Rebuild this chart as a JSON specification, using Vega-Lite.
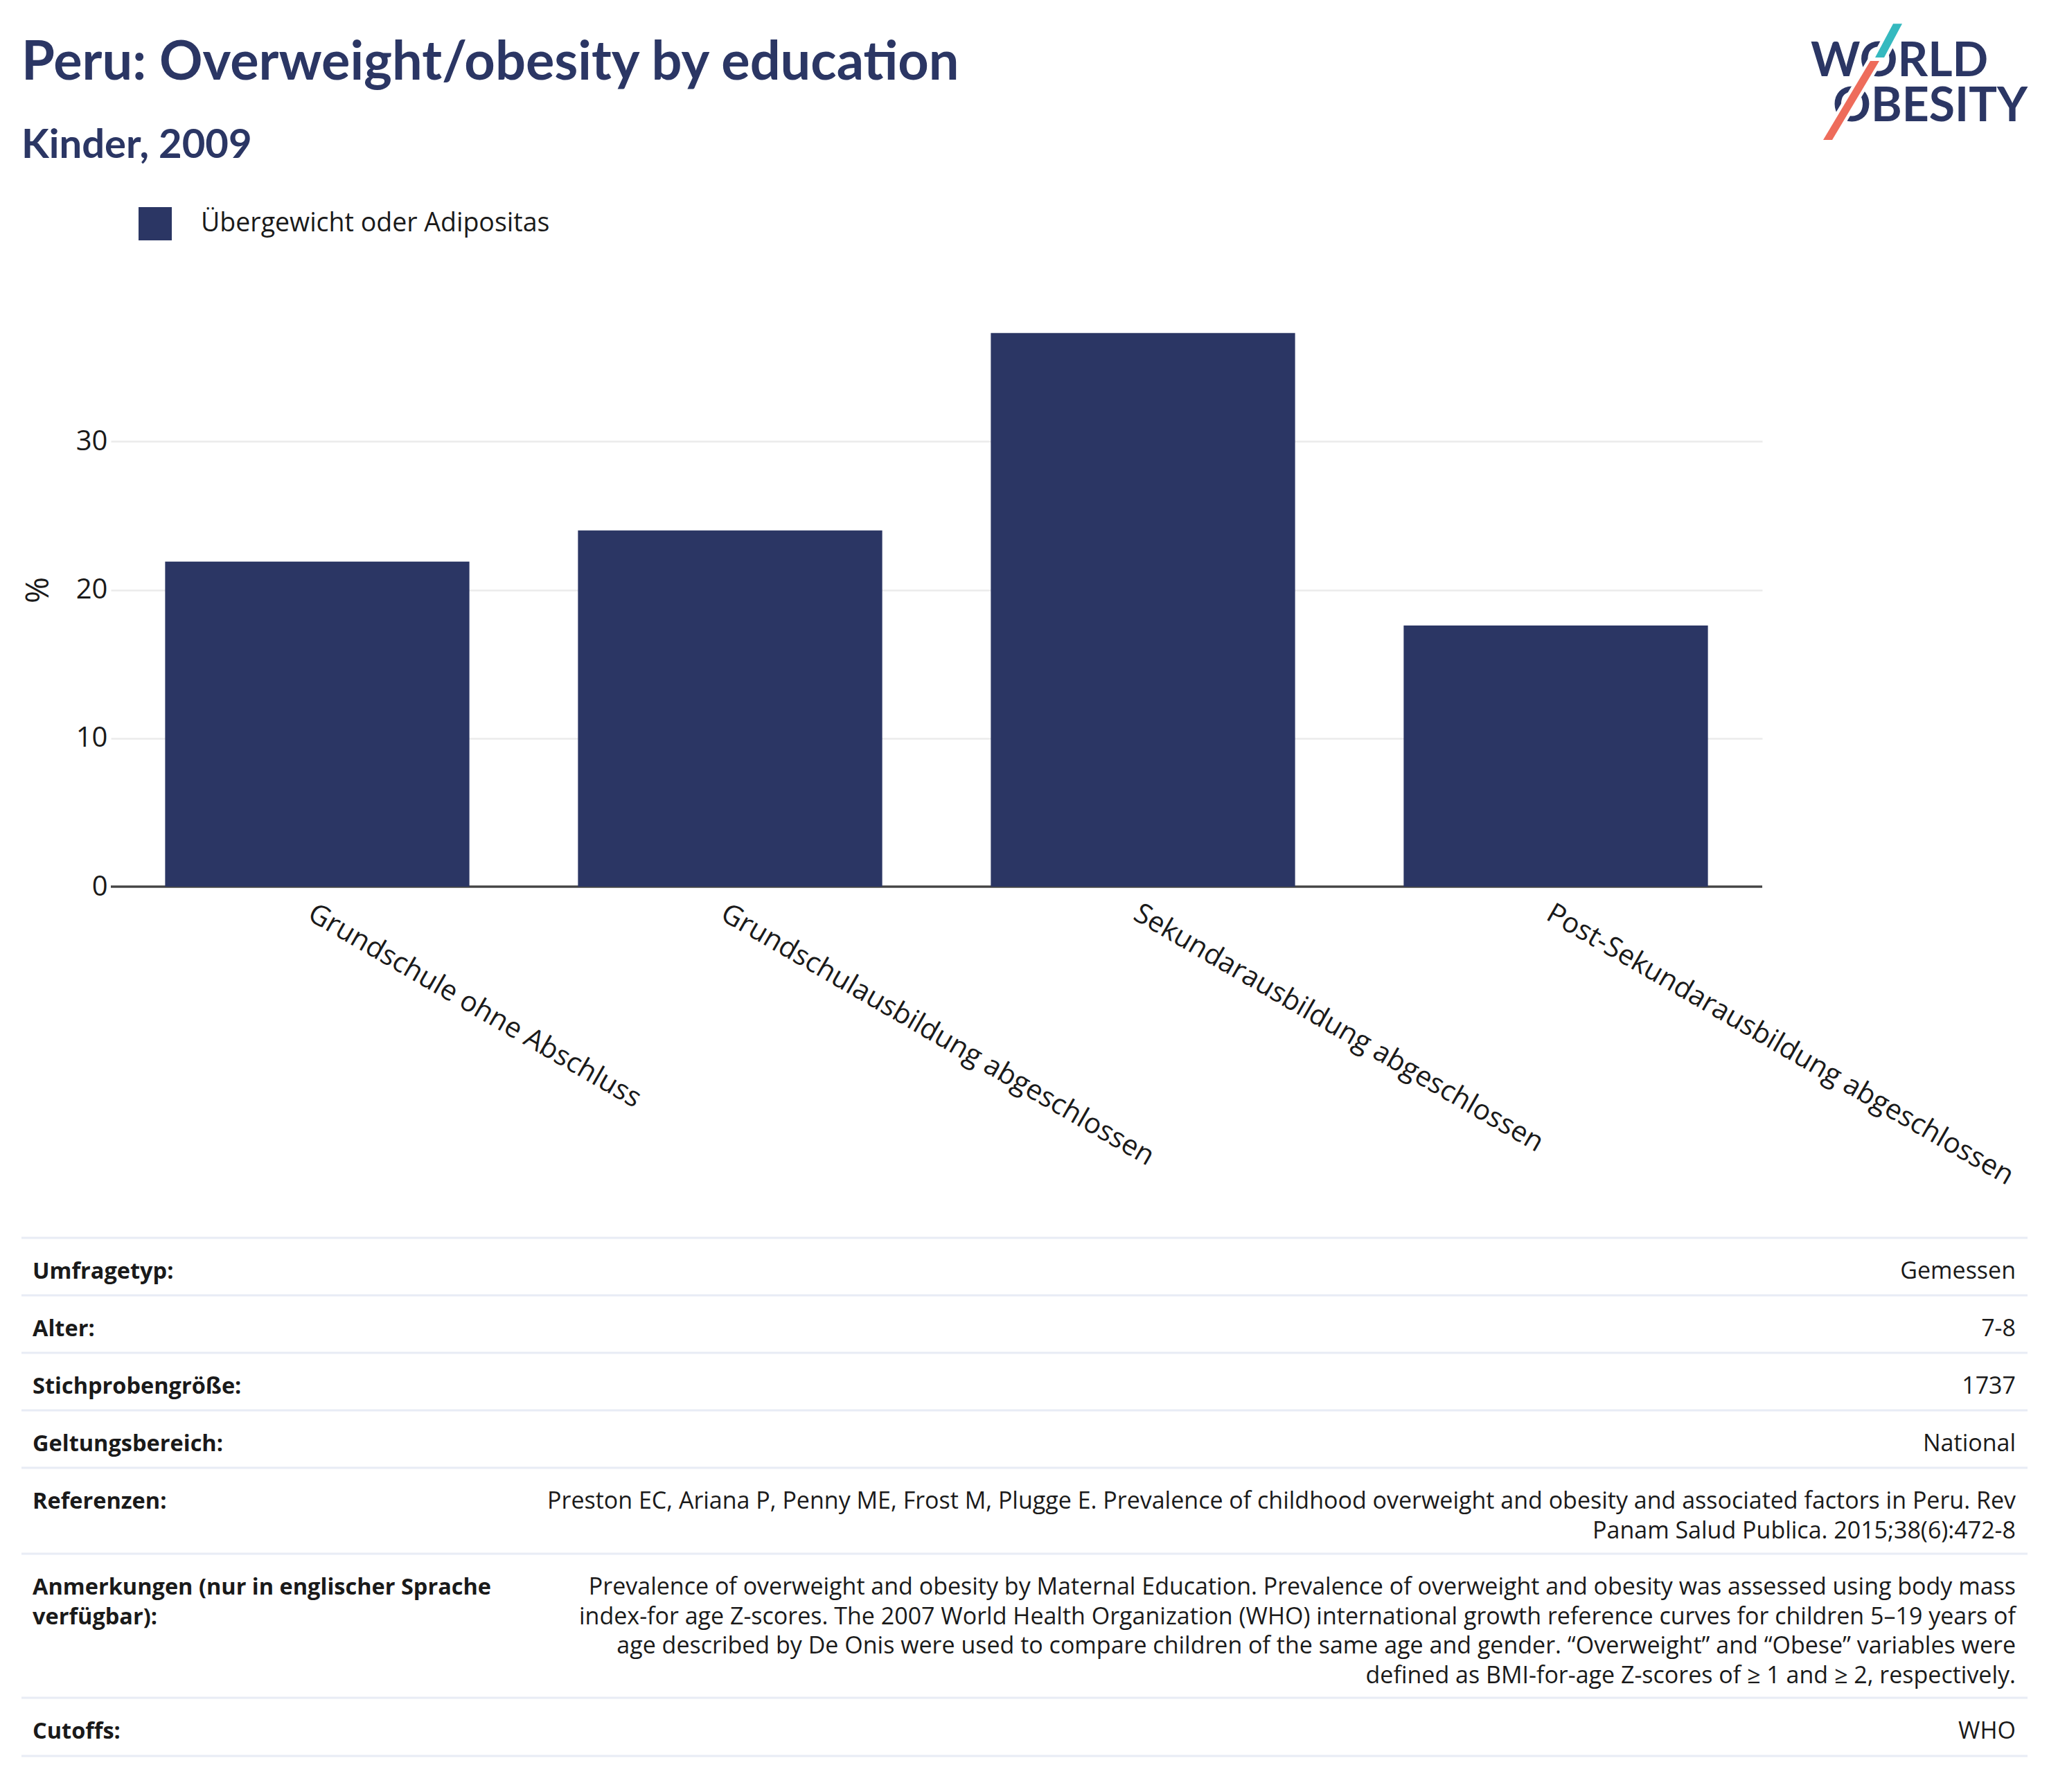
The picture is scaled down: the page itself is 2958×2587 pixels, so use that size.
{
  "$schema": "https://vega.github.io/schema/vega-lite/v6.json",
  "background": "white",
  "padding": {"left": 29, "top": 0, "right": 0, "bottom": 0},
  "config": {"font": "Open Sans", "view": {"stroke": null}},
  "spacing": 59,
  "bounds": "full",
  "resolve": {"scale": {"color": "independent", "size": "independent"}, "legend": {"color": "independent", "size": "independent"}},
  "vconcat": [
    {
      "width": 2767,
      "height": 230,
      "data": {"values": [
        {"item": "title", "label": "Peru: Overweight/obesity by education"},
        {"item": "subtitle", "label": "Kinder, 2009"},
        {"item": "WORLD", "label": "WORLD"},
        {"item": "OBESITY", "label": "OBESITY"}
      ]},
      "layer": [
        {
          "transform": [{"filter": {"field": "item", "oneOf": ["title", "subtitle"]}}],
          "mark": {"type": "text", "align": "left", "baseline": "alphabetic", "font": "Lato", "fontWeight": "bold", "color": "#2b3664"},
          "encoding": {
            "text": {"field": "label"},
            "x": {"datum": 0, "type": "quantitative", "scale": {"domain": [0, 1], "range": [-129, 2767]}, "axis": null},
            "y": {"field": "item", "type": "nominal", "scale": {"type": "point", "domain": ["title", "subtitle"], "range": [115, 228], "padding": 0}, "axis": null},
            "size": {"field": "item", "type": "nominal", "scale": {"domain": ["title", "subtitle"], "range": [77.5, 58]}, "legend": null}
          }
        },
        {
          "transform": [{"filter": {"field": "item", "oneOf": ["WORLD", "OBESITY"]}}],
          "mark": {"type": "text", "align": "left", "baseline": "alphabetic", "font": "Lato", "fontWeight": "bold", "fontSize": 68, "color": "#2b3664"},
          "encoding": {
            "text": {"field": "label"},
            "x": {"field": "item", "type": "nominal", "scale": {"type": "point", "domain": ["WORLD", "OBESITY"], "range": [2454, 2486], "padding": 0}, "axis": null},
            "y": {"field": "item", "type": "nominal", "scale": {"type": "point", "domain": ["WORLD", "OBESITY"], "range": [110, 174.5], "padding": 0}, "axis": null}
          }
        },
        {
          "transform": [{"filter": {"field": "item", "equal": "WORLD"}}],
          "mark": {"type": "point", "filled": true, "opacity": 1, "size": 4, "shape": "M119,-75.7L132,-75.7L106,-27L93,-27Z", "fill": "#ffffff", "stroke": "#ffffff", "strokeWidth": 9},
          "encoding": {
            "x": {"field": "item", "type": "nominal", "scale": {"type": "point", "domain": ["WORLD", "OBESITY"], "range": [2454, 2486], "padding": 0}, "axis": null},
            "y": {"field": "item", "type": "nominal", "scale": {"type": "point", "domain": ["WORLD", "OBESITY"], "range": [110, 174.5], "padding": 0}, "axis": null}
          }
        },
        {
          "transform": [{"filter": {"field": "item", "equal": "WORLD"}}],
          "mark": {"type": "point", "filled": true, "opacity": 1, "size": 4, "shape": "M86,-22L99,-22L31,92L18,92Z", "fill": "#ffffff", "stroke": "#ffffff", "strokeWidth": 9},
          "encoding": {
            "x": {"field": "item", "type": "nominal", "scale": {"type": "point", "domain": ["WORLD", "OBESITY"], "range": [2454, 2486], "padding": 0}, "axis": null},
            "y": {"field": "item", "type": "nominal", "scale": {"type": "point", "domain": ["WORLD", "OBESITY"], "range": [110, 174.5], "padding": 0}, "axis": null}
          }
        },
        {
          "transform": [{"filter": {"field": "item", "equal": "WORLD"}}],
          "mark": {"type": "point", "filled": true, "opacity": 1, "size": 4, "shape": "M119,-75.7L132,-75.7L106,-27L93,-27Z", "fill": "#35b9bf", "strokeWidth": 0},
          "encoding": {
            "x": {"field": "item", "type": "nominal", "scale": {"type": "point", "domain": ["WORLD", "OBESITY"], "range": [2454, 2486], "padding": 0}, "axis": null},
            "y": {"field": "item", "type": "nominal", "scale": {"type": "point", "domain": ["WORLD", "OBESITY"], "range": [110, 174.5], "padding": 0}, "axis": null}
          }
        },
        {
          "transform": [{"filter": {"field": "item", "equal": "WORLD"}}],
          "mark": {"type": "point", "filled": true, "opacity": 1, "size": 4, "shape": "M86,-22L99,-22L31,92L18,92Z", "fill": "#ee6c5b", "strokeWidth": 0},
          "encoding": {
            "x": {"field": "item", "type": "nominal", "scale": {"type": "point", "domain": ["WORLD", "OBESITY"], "range": [2454, 2486], "padding": 0}, "axis": null},
            "y": {"field": "item", "type": "nominal", "scale": {"type": "point", "domain": ["WORLD", "OBESITY"], "range": [110, 174.5], "padding": 0}, "axis": null}
          }
        }
      ],
      "resolve": {"scale": {"x": "independent", "y": "independent", "size": "independent"}}
    },
    {
      "spacing": 66,
      "bounds": "full",
      "resolve": {"scale": {"color": "independent"}, "legend": {"color": "independent"}},
      "vconcat": [
        {
          "width": 2384,
          "height": 857,
          "data": {"values": [
            {"education": "Grundschule ohne Abschluss", "value": 21.9, "series": "Übergewicht oder Adipositas"},
            {"education": "Grundschulausbildung abgeschlossen", "value": 24.0, "series": "Übergewicht oder Adipositas"},
            {"education": "Sekundarausbildung abgeschlossen", "value": 37.3, "series": "Übergewicht oder Adipositas"},
            {"education": "Post-Sekundarausbildung abgeschlossen", "value": 17.6, "series": "Übergewicht oder Adipositas"}
          ]},
          "layer": [
            {
              "mark": {"type": "rule", "color": "#444444", "strokeWidth": 2.5},
              "encoding": {"y": {"datum": 0, "type": "quantitative"}}
            },
            {
              "mark": {"type": "bar"},
              "encoding": {
                "x": {
                  "field": "education", "type": "nominal", "sort": null,
                  "scale": {"paddingInner": 0.263, "paddingOuter": 0.1315},
                  "axis": {"title": null, "labelAngle": 30, "labelAlign": "left", "labelBaseline": "top", "labelFontSize": 40.5, "labelColor": "#1a1a1a", "labelPadding": 18, "labelLimit": 0, "labelOverlap": false, "ticks": false, "domain": false, "grid": false}
                },
                "y": {
                  "field": "value", "type": "quantitative",
                  "scale": {"domain": [0, 40]},
                  "axis": {"title": "%", "titleFontSize": 46, "titleFontWeight": "normal", "titleColor": "#1a1a1a", "titlePadding": 30, "values": [0, 10, 20, 30], "labelFontSize": 40, "labelColor": "#1a1a1a", "labelPadding": 5, "ticks": false, "domain": false, "grid": true, "gridColor": "#ebebeb", "gridWidth": 2.5}
                },
                "color": {
                  "field": "series", "type": "nominal",
                  "scale": {"range": ["#2b3664"]},
                  "legend": {"orient": "none", "legendX": 40, "legendY": -124, "direction": "horizontal", "title": null, "symbolType": "square", "symbolSize": 2304, "symbolStrokeWidth": 0, "labelFontSize": 37.5, "labelColor": "#1a1a1a", "labelOffset": 42, "labelLimit": 0, "padding": 0}
                }
              }
            }
          ]
        },
        {
          "spacing": 0,
          "bounds": "flush",
          "vconcat": [
            {
              "width": 2767, "height": 83,
              "data": {"values": [{"label": ["Umfragetyp:"], "value": ["Gemessen"]}]},
              "layer": [
                {"mark": {"type": "rule", "color": "#e8ecf5", "strokeWidth": 3}, "encoding": {"x": {"datum": 0, "type": "quantitative", "scale": {"domain": [0, 1], "range": [-129, 2767]}, "axis": null}, "x2": {"datum": 1}, "y": {"datum": 1, "type": "quantitative", "scale": {"domain": [0, 1]}, "axis": null}}},
                {"mark": {"type": "rule", "color": "#e8ecf5", "strokeWidth": 3}, "encoding": {"x": {"datum": 0, "type": "quantitative", "scale": {"domain": [0, 1], "range": [-129, 2767]}, "axis": null}, "x2": {"datum": 1}, "y": {"datum": 0, "type": "quantitative", "scale": {"domain": [0, 1]}, "axis": null}}},
                {"mark": {"type": "text", "align": "left", "baseline": "alphabetic", "fontWeight": "bold", "fontSize": 32.5, "lineHeight": 42.5, "color": "#1a1a1a", "dx": 16, "dy": 59}, "encoding": {"text": {"field": "label"}, "x": {"datum": 0, "type": "quantitative", "scale": {"domain": [0, 1], "range": [-129, 2767]}, "axis": null}, "y": {"datum": 1, "type": "quantitative", "scale": {"domain": [0, 1]}, "axis": null}}},
                {"mark": {"type": "text", "align": "right", "baseline": "alphabetic", "fontSize": 34, "lineHeight": 42.5, "color": "#1a1a1a", "dx": -17, "dy": 59}, "encoding": {"text": {"field": "value"}, "x": {"datum": 1, "type": "quantitative", "scale": {"domain": [0, 1], "range": [-129, 2767]}, "axis": null}, "y": {"datum": 1, "type": "quantitative", "scale": {"domain": [0, 1]}, "axis": null}}}
              ]
            },
            {
              "width": 2767, "height": 83,
              "data": {"values": [{"label": ["Alter:"], "value": ["7-8"]}]},
              "layer": [
                {"mark": {"type": "rule", "color": "#e8ecf5", "strokeWidth": 3}, "encoding": {"x": {"datum": 0, "type": "quantitative", "scale": {"domain": [0, 1], "range": [-129, 2767]}, "axis": null}, "x2": {"datum": 1}, "y": {"datum": 0, "type": "quantitative", "scale": {"domain": [0, 1]}, "axis": null}}},
                {"mark": {"type": "text", "align": "left", "baseline": "alphabetic", "fontWeight": "bold", "fontSize": 32.5, "lineHeight": 42.5, "color": "#1a1a1a", "dx": 16, "dy": 59}, "encoding": {"text": {"field": "label"}, "x": {"datum": 0, "type": "quantitative", "scale": {"domain": [0, 1], "range": [-129, 2767]}, "axis": null}, "y": {"datum": 1, "type": "quantitative", "scale": {"domain": [0, 1]}, "axis": null}}},
                {"mark": {"type": "text", "align": "right", "baseline": "alphabetic", "fontSize": 34, "lineHeight": 42.5, "color": "#1a1a1a", "dx": -17, "dy": 59}, "encoding": {"text": {"field": "value"}, "x": {"datum": 1, "type": "quantitative", "scale": {"domain": [0, 1], "range": [-129, 2767]}, "axis": null}, "y": {"datum": 1, "type": "quantitative", "scale": {"domain": [0, 1]}, "axis": null}}}
              ]
            },
            {
              "width": 2767, "height": 83,
              "data": {"values": [{"label": ["Stichprobengröße:"], "value": ["1737"]}]},
              "layer": [
                {"mark": {"type": "rule", "color": "#e8ecf5", "strokeWidth": 3}, "encoding": {"x": {"datum": 0, "type": "quantitative", "scale": {"domain": [0, 1], "range": [-129, 2767]}, "axis": null}, "x2": {"datum": 1}, "y": {"datum": 0, "type": "quantitative", "scale": {"domain": [0, 1]}, "axis": null}}},
                {"mark": {"type": "text", "align": "left", "baseline": "alphabetic", "fontWeight": "bold", "fontSize": 32.5, "lineHeight": 42.5, "color": "#1a1a1a", "dx": 16, "dy": 59}, "encoding": {"text": {"field": "label"}, "x": {"datum": 0, "type": "quantitative", "scale": {"domain": [0, 1], "range": [-129, 2767]}, "axis": null}, "y": {"datum": 1, "type": "quantitative", "scale": {"domain": [0, 1]}, "axis": null}}},
                {"mark": {"type": "text", "align": "right", "baseline": "alphabetic", "fontSize": 34, "lineHeight": 42.5, "color": "#1a1a1a", "dx": -17, "dy": 59}, "encoding": {"text": {"field": "value"}, "x": {"datum": 1, "type": "quantitative", "scale": {"domain": [0, 1], "range": [-129, 2767]}, "axis": null}, "y": {"datum": 1, "type": "quantitative", "scale": {"domain": [0, 1]}, "axis": null}}}
              ]
            },
            {
              "width": 2767, "height": 83,
              "data": {"values": [{"label": ["Geltungsbereich:"], "value": ["National"]}]},
              "layer": [
                {"mark": {"type": "rule", "color": "#e8ecf5", "strokeWidth": 3}, "encoding": {"x": {"datum": 0, "type": "quantitative", "scale": {"domain": [0, 1], "range": [-129, 2767]}, "axis": null}, "x2": {"datum": 1}, "y": {"datum": 0, "type": "quantitative", "scale": {"domain": [0, 1]}, "axis": null}}},
                {"mark": {"type": "text", "align": "left", "baseline": "alphabetic", "fontWeight": "bold", "fontSize": 32.5, "lineHeight": 42.5, "color": "#1a1a1a", "dx": 16, "dy": 59}, "encoding": {"text": {"field": "label"}, "x": {"datum": 0, "type": "quantitative", "scale": {"domain": [0, 1], "range": [-129, 2767]}, "axis": null}, "y": {"datum": 1, "type": "quantitative", "scale": {"domain": [0, 1]}, "axis": null}}},
                {"mark": {"type": "text", "align": "right", "baseline": "alphabetic", "fontSize": 34, "lineHeight": 42.5, "color": "#1a1a1a", "dx": -17, "dy": 59}, "encoding": {"text": {"field": "value"}, "x": {"datum": 1, "type": "quantitative", "scale": {"domain": [0, 1], "range": [-129, 2767]}, "axis": null}, "y": {"datum": 1, "type": "quantitative", "scale": {"domain": [0, 1]}, "axis": null}}}
              ]
            },
            {
              "width": 2767, "height": 124,
              "data": {"values": [{"label": ["Referenzen:"], "value": ["Preston EC, Ariana P, Penny ME, Frost M, Plugge E. Prevalence of childhood overweight and obesity and associated factors in Peru. Rev", "Panam Salud Publica. 2015;38(6):472-8"]}]},
              "layer": [
                {"mark": {"type": "rule", "color": "#e8ecf5", "strokeWidth": 3}, "encoding": {"x": {"datum": 0, "type": "quantitative", "scale": {"domain": [0, 1], "range": [-129, 2767]}, "axis": null}, "x2": {"datum": 1}, "y": {"datum": 0, "type": "quantitative", "scale": {"domain": [0, 1]}, "axis": null}}},
                {"mark": {"type": "text", "align": "left", "baseline": "alphabetic", "fontWeight": "bold", "fontSize": 32.5, "lineHeight": 42.5, "color": "#1a1a1a", "dx": 16, "dy": 59}, "encoding": {"text": {"field": "label"}, "x": {"datum": 0, "type": "quantitative", "scale": {"domain": [0, 1], "range": [-129, 2767]}, "axis": null}, "y": {"datum": 1, "type": "quantitative", "scale": {"domain": [0, 1]}, "axis": null}}},
                {"mark": {"type": "text", "align": "right", "baseline": "alphabetic", "fontSize": 34, "lineHeight": 42.5, "color": "#1a1a1a", "dx": -17, "dy": 59}, "encoding": {"text": {"field": "value"}, "x": {"datum": 1, "type": "quantitative", "scale": {"domain": [0, 1], "range": [-129, 2767]}, "axis": null}, "y": {"datum": 1, "type": "quantitative", "scale": {"domain": [0, 1]}, "axis": null}}}
              ]
            },
            {
              "width": 2767, "height": 208,
              "data": {"values": [{"label": ["Anmerkungen (nur in englischer Sprache", "verfügbar):"], "value": ["Prevalence of overweight and obesity by Maternal Education. Prevalence of overweight and obesity was assessed using body mass", "index-for age Z-scores. The 2007 World Health Organization (WHO) international growth reference curves for children 5–19 years of", "age described by De Onis were used to compare children of the same age and gender. “Overweight” and “Obese” variables were", "defined as BMI-for-age Z-scores of ≥ 1 and ≥ 2, respectively."]}]},
              "layer": [
                {"mark": {"type": "rule", "color": "#e8ecf5", "strokeWidth": 3}, "encoding": {"x": {"datum": 0, "type": "quantitative", "scale": {"domain": [0, 1], "range": [-129, 2767]}, "axis": null}, "x2": {"datum": 1}, "y": {"datum": 0, "type": "quantitative", "scale": {"domain": [0, 1]}, "axis": null}}},
                {"mark": {"type": "text", "align": "left", "baseline": "alphabetic", "fontWeight": "bold", "fontSize": 32.5, "lineHeight": 42.5, "color": "#1a1a1a", "dx": 16, "dy": 59}, "encoding": {"text": {"field": "label"}, "x": {"datum": 0, "type": "quantitative", "scale": {"domain": [0, 1], "range": [-129, 2767]}, "axis": null}, "y": {"datum": 1, "type": "quantitative", "scale": {"domain": [0, 1]}, "axis": null}}},
                {"mark": {"type": "text", "align": "right", "baseline": "alphabetic", "fontSize": 34, "lineHeight": 42.5, "color": "#1a1a1a", "dx": -17, "dy": 59}, "encoding": {"text": {"field": "value"}, "x": {"datum": 1, "type": "quantitative", "scale": {"domain": [0, 1], "range": [-129, 2767]}, "axis": null}, "y": {"datum": 1, "type": "quantitative", "scale": {"domain": [0, 1]}, "axis": null}}}
              ]
            },
            {
              "width": 2767, "height": 84,
              "data": {"values": [{"label": ["Cutoffs:"], "value": ["WHO"]}]},
              "layer": [
                {"mark": {"type": "rule", "color": "#e8ecf5", "strokeWidth": 3}, "encoding": {"x": {"datum": 0, "type": "quantitative", "scale": {"domain": [0, 1], "range": [-129, 2767]}, "axis": null}, "x2": {"datum": 1}, "y": {"datum": 0, "type": "quantitative", "scale": {"domain": [0, 1]}, "axis": null}}},
                {"mark": {"type": "text", "align": "left", "baseline": "alphabetic", "fontWeight": "bold", "fontSize": 32.5, "lineHeight": 42.5, "color": "#1a1a1a", "dx": 16, "dy": 59}, "encoding": {"text": {"field": "label"}, "x": {"datum": 0, "type": "quantitative", "scale": {"domain": [0, 1], "range": [-129, 2767]}, "axis": null}, "y": {"datum": 1, "type": "quantitative", "scale": {"domain": [0, 1]}, "axis": null}}},
                {"mark": {"type": "text", "align": "right", "baseline": "alphabetic", "fontSize": 34, "lineHeight": 42.5, "color": "#1a1a1a", "dx": -17, "dy": 59}, "encoding": {"text": {"field": "value"}, "x": {"datum": 1, "type": "quantitative", "scale": {"domain": [0, 1], "range": [-129, 2767]}, "axis": null}, "y": {"datum": 1, "type": "quantitative", "scale": {"domain": [0, 1]}, "axis": null}}}
              ]
            }
          ]
        }
      ]
    }
  ]
}
